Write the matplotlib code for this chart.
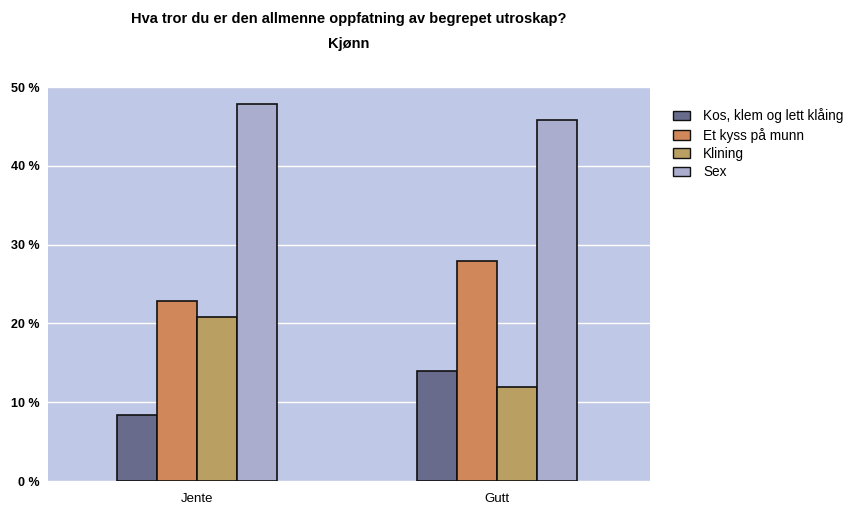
import matplotlib
matplotlib.use("Agg")
import matplotlib.pyplot as plt
import numpy as np

categories = ["Jente", "Gutt"]
series_names = ["Kos, klem og lett kl\u00e5ing", "Et kyss p\u00e5 munn", "Klining", "Sex"]
values = {
    "Kos, klem og lett kl\u00e5ing": [8.4, 14.0],
    "Et kyss p\u00e5 munn": [22.9, 27.9],
    "Klining": [20.8, 11.9],
    "Sex": [47.8, 45.8],
}
yticks = [0, 10, 20, 30, 40, 50]
colors = ["#686b8c", "#d0875a", "#b9a062", "#abadcf"]

plt.rcParams['font.family'] = ['Liberation Sans', 'DejaVu Sans']

fig = plt.figure(figsize=(8.48, 5.07), dpi=100)
ax = fig.add_axes([48/848, 1 - 481/507, 602/848, (481-87)/507])
ax.set_facecolor("#bfc8e6")

x = np.array([0.2475, 0.746])
w = 0.0665
for i, name in enumerate(series_names):
    ax.bar(x + (i - 1.5) * w, values[name], width=w, color=colors[i],
           edgecolor="#111111", linewidth=1.2, label=name, zorder=3)

ax.set_xlim(0, 1)
ax.set_ylim(0, 50)
ax.set_yticks(yticks)
ax.set_yticklabels([f"{t} %" for t in yticks], fontsize=9, fontweight="bold")
ax.set_xticks(x)
ax.set_xticklabels(categories, fontsize=9.5)
ax.yaxis.grid(True, color="white", linewidth=1, zorder=0)
ax.set_axisbelow(True)
for s in ax.spines.values():
    s.set_visible(False)
ax.tick_params(length=0)
ax.tick_params(axis='y', pad=6)
ax.tick_params(axis='x', pad=9)

fig.text(349/848, 1 - 19/507, "Hva tror du er den allmenne oppfatning av begrepet utroskap?",
         ha="center", va="center", fontsize=10.5, fontweight="bold")
fig.text(349/848, 1 - 44/507, "Kj\u00f8nn", ha="center", va="center",
         fontsize=10.5, fontweight="bold")

leg = fig.legend(loc="upper left", bbox_to_anchor=(661/848, 1 - 96/507),
                 frameon=False, fontsize=9.8, handlelength=1.2, handleheight=0.7,
                 labelspacing=0.32, handletextpad=1.0)
for p in leg.get_patches():
    p.set_linewidth(1.0)

fig.savefig("out.png", dpi=100)
